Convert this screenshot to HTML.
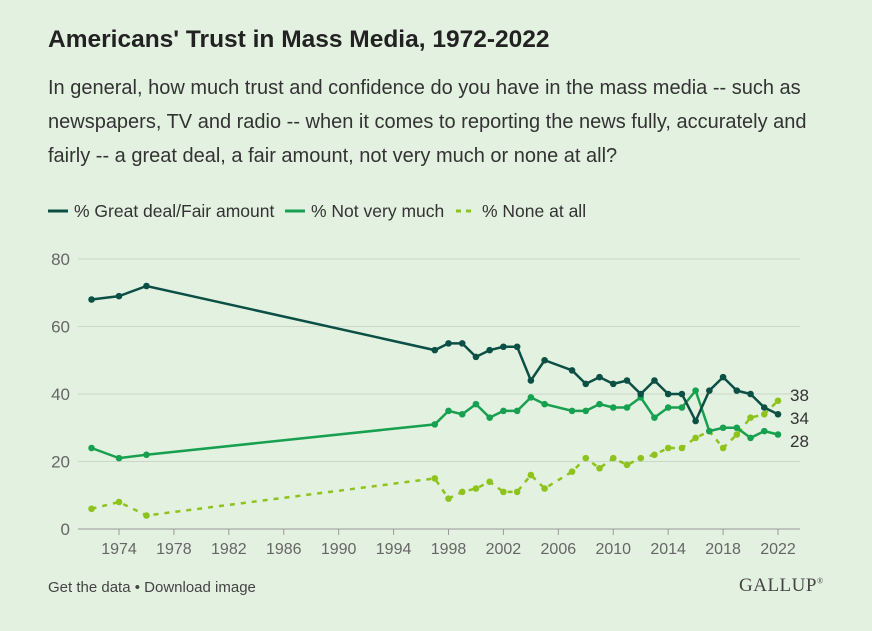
<!DOCTYPE html>
<html><head><meta charset="utf-8">
<style>
body{margin:0;background:#e3f1e0;width:872px;height:631px;overflow:hidden;font-family:"Liberation Sans",sans-serif;color:#222;}
#title{position:absolute;left:48px;top:26px;font-size:24.5px;font-weight:bold;margin:0;}
#sub{position:absolute;left:48px;top:71px;width:800px;font-size:20px;line-height:34px;color:#333;margin:0;}
#foot{position:absolute;left:48px;top:579px;font-size:15px;color:#444;}
#logo{position:absolute;left:739px;top:575px;font-size:19px;font-family:"Liberation Serif",serif;color:#444;letter-spacing:0.5px;}
svg{position:absolute;left:0;top:0;}
</style></head><body>
<h1 id="title">Americans' Trust in Mass Media, 1972-2022</h1>
<p id="sub">In general, how much trust and confidence do you have in the mass media -- such as newspapers, TV and radio -- when it comes to reporting the news fully, accurately and fairly -- a great deal, a fair amount, not very much or none at all?</p>
<div id="foot"><span>Get the data</span> • <span>Download image</span></div>
<div id="logo">GALLUP<sup style="font-size:8px">®</sup></div>
<svg id="chart" width="872" height="631"></svg>
<script>
const years=[1972,1974,1976,1997,1998,1999,2000,2001,2002,2003,2004,2005,2007,2008,2009,2010,2011,2012,2013,2014,2015,2016,2017,2018,2019,2020,2021,2022];
const greatDeal=[68,69,72,53,55,55,51,53,54,54,44,50,47,43,45,43,44,40,44,40,40,32,41,45,41,40,36,34];
const notVeryMuch=[24,21,22,31,35,34,37,33,35,35,39,37,35,35,37,36,36,39,33,36,36,41,29,30,30,27,29,28];
const noneAtAll=[6,8,4,15,9,11,12,14,11,11,16,12,17,21,18,21,19,21,22,24,24,27,29,24,28,33,34,38];
const xTicks=[1974,1978,1982,1986,1990,1994,1998,2002,2006,2010,2014,2018,2022];
const yTicks=[0,20,40,60,80];
const NS='http://www.w3.org/2000/svg';
const svg=document.getElementById('chart');
const x=y=>119+(y-1974)*(778-119)/48;
const yv=v=>529-v*(529-259)/80;
function mk(t,a,p){const e=document.createElementNS(NS,t);for(const k in a)e.setAttribute(k,a[k]);(p||svg).appendChild(e);return e;}
yTicks.forEach(t=>{
  const l=mk('line',{x1:78,x2:800,y1:yv(t),y2:yv(t),stroke:t===0?'#999':'#cbd8c8','stroke-width':1});
  
  
  const tx=mk('text',{x:70,y:yv(t)+6,'text-anchor':'end','font-size':17,fill:'#666'});tx.textContent=t;
  
  
});
xTicks.forEach(t=>{
  mk('line',{x1:x(t),x2:x(t),y1:529,y2:535,stroke:'#999'});
  const tx=mk('text',{x:x(t),y:554,'text-anchor':'middle','font-size':16,fill:'#666'});tx.textContent=t;
  
  
});
const series=[[noneAtAll,'#8ec21c','5,6','none-at-all'],[notVeryMuch,'#17a04f',null,'not-very-much'],[greatDeal,'#0b4f45',null,'great-deal-fair-amount']];
series.forEach(([d,c,dash,n])=>{
  const g=mk('g',{});
  
  
  const pts=d.map((v,i)=>x(years[i])+','+yv(v)).join(' ');
  const pl=mk('polyline',{points:pts,fill:'none',stroke:c,'stroke-width':2.5},g);
  if(dash)pl.setAttribute('stroke-dasharray',dash);
  d.forEach((v,i)=>{const p=mk('circle',{cx:x(years[i]),cy:yv(v),r:3.3,fill:c},g);
    
    });
});
// end labels with collision avoidance (sorted top to bottom)
const endVals=[noneAtAll,greatDeal,notVeryMuch].map(d=>d[d.length-1]).sort((a,b)=>b-a);
let prev=-1e9;
endVals.forEach(v=>{let cy=Math.max(yv(v)-6,prev+23);prev=cy;
  const tx=mk('text',{x:790,y:cy+6,'font-size':17,fill:'#333'});tx.textContent=v;
  
  });
const leg=[['% Great deal/Fair amount','#0b4f45',null,48],['% Not very much','#17a04f',null,285],['% None at all','#8ec21c','5,5',456]];
leg.forEach(([t,c,dash,lx])=>{
  const g=mk('g',{});
  
  
  const l=mk('line',{x1:lx,x2:lx+20,y1:211,y2:211,stroke:c,'stroke-width':3},g);
  if(dash)l.setAttribute('stroke-dasharray',dash);
  const tx=mk('text',{x:lx+26,y:217,'font-size':17.5,fill:'#333'},g);tx.textContent=t;
});
</script>
</body></html>
